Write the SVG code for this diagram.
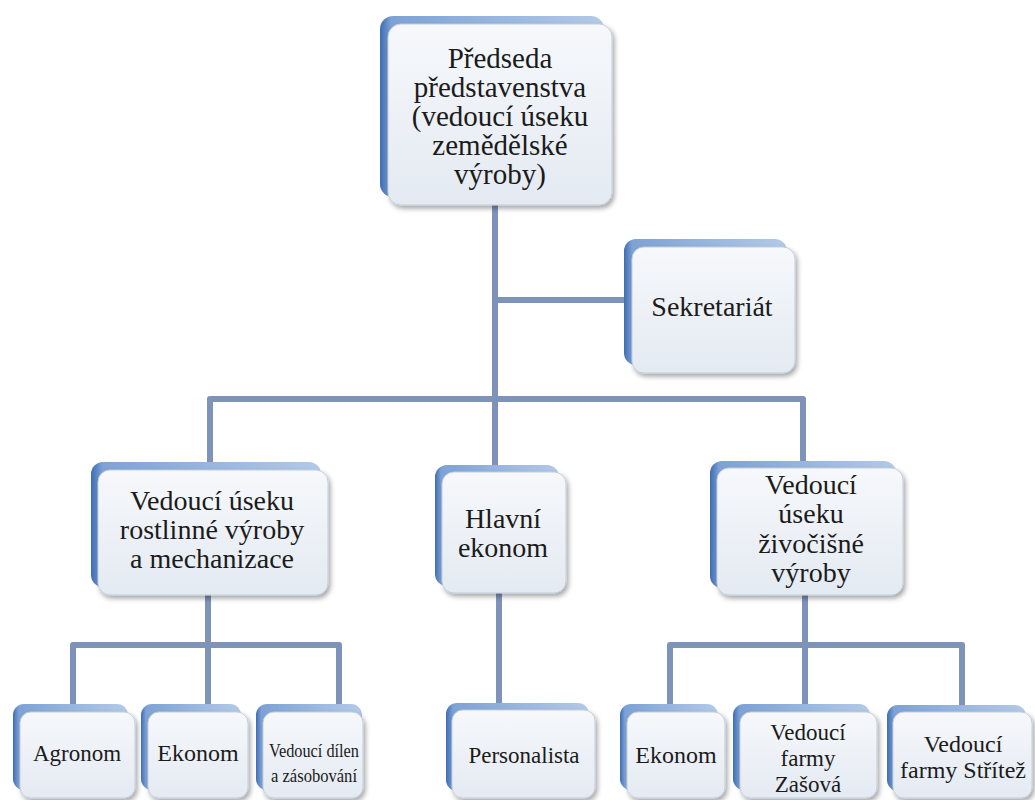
<svg xmlns="http://www.w3.org/2000/svg" width="1035" height="800" viewBox="0 0 1035 800">
<defs>
<linearGradient id="gBack" x1="0" y1="0" x2="1" y2="0">
<stop offset="0" stop-color="#3d6db3"/>
<stop offset="0.05" stop-color="#7ea2d5"/>
<stop offset="1" stop-color="#b3cae8"/>
</linearGradient>
<linearGradient id="gFace" x1="0" y1="0" x2="0" y2="1">
<stop offset="0" stop-color="#f6f8fb"/>
<stop offset="1" stop-color="#e4eaf2"/>
</linearGradient>
<filter id="sh" x="-10%" y="-10%" width="125%" height="130%">
<feDropShadow dx="2" dy="3" stdDeviation="2.5" flood-color="#000" flood-opacity="0.35"/>
</filter>
</defs>
<style>
.back{fill:url(#gBack)}
.face{fill:url(#gFace);stroke:#c3cddb;stroke-width:1;filter:url(#sh)}
.conn{stroke:#7d93ba;stroke-width:6;fill:none;stroke-linejoin:round}
.lbl{font-family:'Liberation Serif','Times New Roman',serif;fill:#1b1b1b;text-anchor:middle}
.t30{font-size:29px}
.t28{font-size:28px}
.t24{font-size:24px}
.t23{font-size:23px}
.t19{font-size:19px}
</style>
<rect width="1035" height="800" fill="#ffffff"/>
<g id="connectors">
<path class="conn" d="M495,205 V466"/>
<path class="conn" d="M495,300 H626"/>
<path class="conn" d="M210,463 V399 H803 V462"/>
<path class="conn" d="M208,595 V705"/>
<path class="conn" d="M73,705 V645 H339 V705"/>
<path class="conn" d="M499,593 V703"/>
<path class="conn" d="M805,595 V705"/>
<path class="conn" d="M670,705 V645 H962 V705"/>
</g>
<g id="n-predseda">
<rect class="back" x="380" y="16" width="224" height="181" rx="13"/>
<rect class="face" x="388" y="24" width="224" height="181" rx="13"/>
<text class="lbl t30" x="500" y="68">Předseda</text>
<text class="lbl t30" x="500" y="97">představenstva</text>
<text class="lbl t30" x="500" y="126">(vedoucí úseku</text>
<text class="lbl t30" x="500" y="155">zemědělské</text>
<text class="lbl t30" x="500" y="184">výroby)</text>
</g>
<g id="n-sekretariat">
<rect class="back" x="624" y="239" width="163" height="126" rx="12"/>
<rect class="face" x="632" y="247" width="163" height="126" rx="12"/>
<text class="lbl t28" x="712" y="316">Sekretariát</text>
</g>
<g id="n-rostlinna">
<rect class="back" x="91" y="462" width="230" height="125" rx="12"/>
<rect class="face" x="98" y="470" width="230" height="125" rx="12"/>
<text class="lbl t28" x="212" y="510">Vedoucí úseku</text>
<text class="lbl t28" x="212" y="539">rostlinné výroby</text>
<text class="lbl t28" x="212" y="568">a mechanizace</text>
</g>
<g id="n-ekonom-hlavni">
<rect class="back" x="435" y="465" width="124" height="121" rx="12"/>
<rect class="face" x="442" y="472" width="124" height="121" rx="12"/>
<text class="lbl t28" x="503" y="528">Hlavní</text>
<text class="lbl t28" x="503" y="557">ekonom</text>
</g>
<g id="n-zivocisna">
<rect class="back" x="710" y="461" width="186" height="127" rx="12"/>
<rect class="face" x="717" y="468" width="186" height="127" rx="12"/>
<text class="lbl t28" x="811" y="494">Vedoucí</text>
<text class="lbl t28" x="811" y="523">úseku</text>
<text class="lbl t28" x="811" y="553">živočišné</text>
<text class="lbl t28" x="811" y="582">výroby</text>
</g>
<g id="n-agronom">
<rect class="back" x="13" y="704" width="115" height="86" rx="11"/>
<rect class="face" x="20" y="712" width="115" height="86" rx="11"/>
<text class="lbl t23" x="77" y="761">Agronom</text>
</g>
<g id="n-ekonom-l">
<rect class="back" x="141" y="704" width="100" height="86" rx="11"/>
<rect class="face" x="148" y="712" width="100" height="86" rx="11"/>
<text class="lbl t24" x="198" y="761">Ekonom</text>
</g>
<g id="n-dilny">
<rect class="back" x="256" y="704" width="106" height="86" rx="11"/>
<rect class="face" x="263" y="712" width="100" height="86" rx="11"/>
<text class="lbl t19" x="314" y="757" textLength="90" lengthAdjust="spacingAndGlyphs">Vedoucí dílen</text>
<text class="lbl t19" x="314" y="782" textLength="86" lengthAdjust="spacingAndGlyphs">a zásobování</text>
</g>
<g id="n-personalista">
<rect class="back" x="446" y="703" width="143" height="88" rx="11"/>
<rect class="face" x="452" y="710" width="143" height="88" rx="11"/>
<text class="lbl t23" x="524" y="763">Personalista</text>
</g>
<g id="n-ekonom-r">
<rect class="back" x="620" y="704" width="98" height="86" rx="11"/>
<rect class="face" x="627" y="712" width="98" height="86" rx="11"/>
<text class="lbl t24" x="676" y="763">Ekonom</text>
</g>
<g id="n-zasova">
<rect class="back" x="733" y="704" width="137" height="86" rx="11"/>
<rect class="face" x="740" y="712" width="137" height="86" rx="11"/>
<text class="lbl t23" x="808" y="740">Vedoucí</text>
<text class="lbl t23" x="808" y="766">farmy</text>
<text class="lbl t23" x="808" y="792">Zašová</text>
</g>
<g id="n-stritez">
<rect class="back" x="887" y="705" width="139" height="86" rx="11"/>
<rect class="face" x="893" y="712" width="139" height="86" rx="11"/>
<text class="lbl t24" x="963" y="752">Vedoucí</text>
<text class="lbl t24" x="963" y="778">farmy Střítež</text>
</g>
</svg>
